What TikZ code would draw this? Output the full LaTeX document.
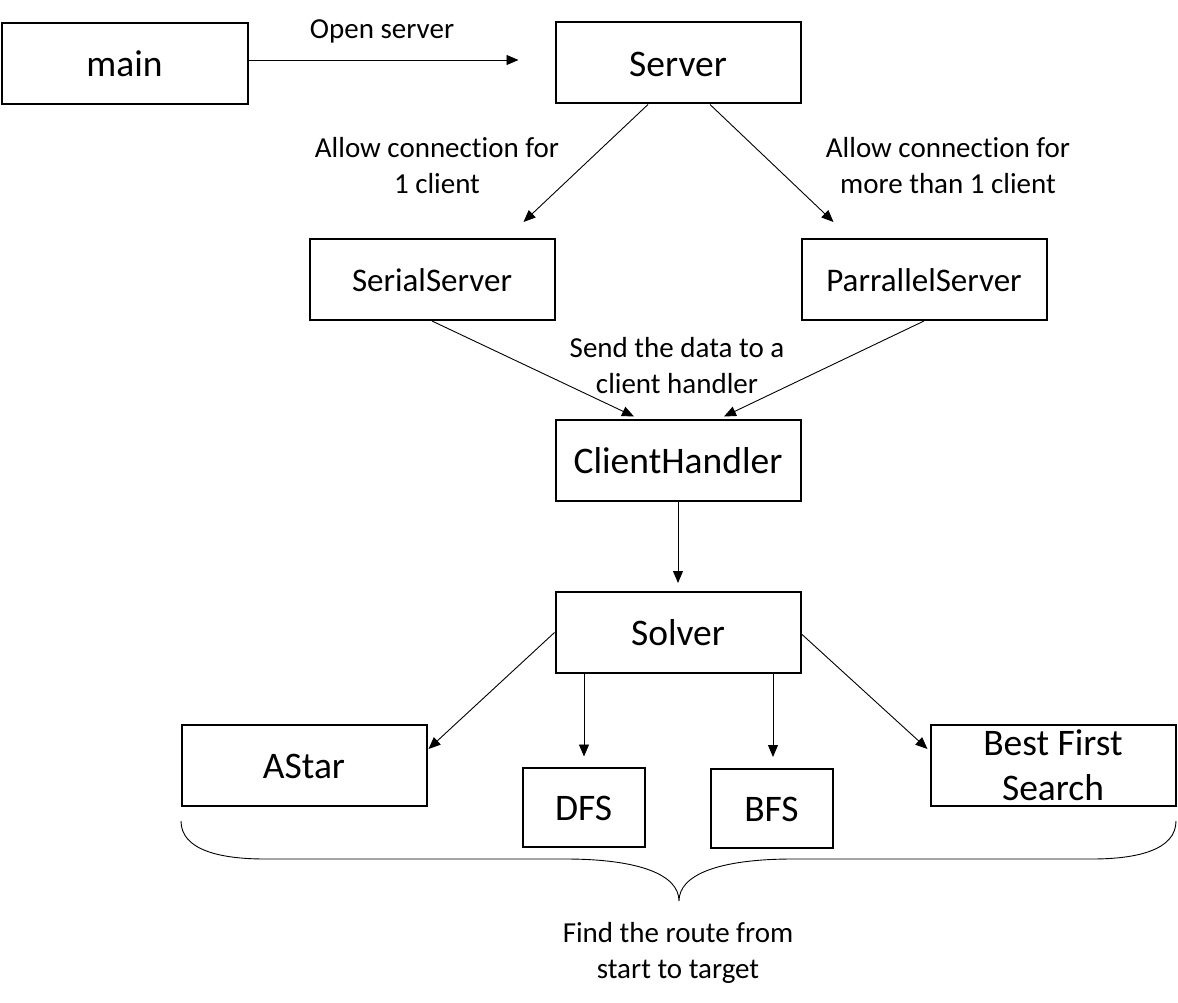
\documentclass[tikz,border=0pt]{standalone}
\usepackage{fontspec}
\setmainfont{Carlito}[Ligatures=NoCommon]
\usetikzlibrary{arrows.meta,calc}
\begin{document}
\begin{tikzpicture}[x=1pt,y=-1pt,
  boxbase/.style={draw,line width=2pt,minimum width=245pt,minimum height=81pt,inner sep=0pt,align=center,font=\fontsize{37.5}{45}\selectfont},
  box/.style={boxbase,text height=30pt,text depth=3.6pt},
  smallbox/.style={box,minimum width=122pt,minimum height=79pt},
  midbox/.style={box,font=\fontsize{33}{40}\selectfont,text height=27pt,text depth=3.5pt},
  lbl/.style={align=center,inner sep=0pt,font=\fontsize{29}{36}\selectfont},
  arr/.style={-{Triangle[length=12pt,width=10pt]},line width=0.9pt},
  bracel/.style={line width=0.9pt}]
\useasboundingbox (0,0) rectangle (1178,1003);
\node[box,minimum width=246pt] (main) at (124.5,63.5) {main};
\node[box] (server) at (678,63) {Server};
\node[midbox] (serial) at (432,279.5) {SerialServer};
\node[midbox] (par) at (924,279.5) {ParrallelServer};
\node[box] (ch) at (678,460) {ClientHandler};
\node[box] (solver) at (678,632.5) {Solver};
\node[box] (astar) at (304,765) {AStar};
\node[smallbox] (dfs) at (583.5,807) {DFS};
\node[smallbox] (bfs) at (771.5,808.5) {BFS};
\node[boxbase] (best) at (1053,765) {Best First\\Search};

\node[lbl] (l1) at (382,31) {Open server};
\node[lbl] (l2) at (437,165.5) {Allow connection for\\1 client};
\node[lbl] (l3) at (948,165.5) {Allow connection for\\more than 1 client};
\node[lbl] (l4) at (677,366) {Send the data to a\\client handler};
\node[lbl] (l5) at (678,952.5) {Find the route from\\start to target};

\coordinate (e1) at ($(server.west)+(-36,-3)$);
\draw[arr] (main.east |- e1) -- (e1);
\draw[arr] ($(server.south)+(-30,0)$) -- ($(serial.north east)+(-32,-16)$);
\draw[arr] ($(server.south)+(32,0)$) -- ($(par.north west)+(33,-16)$);
\draw[arr] (serial.south) -- ($(ch.north)+(-44,-2)$);
\draw[arr] (par.south) -- ($(ch.north)+(46,-2)$);
\draw[arr] (ch.south) -- ($(solver.north)+(0,-8)$);
\draw[arr] (solver.west) -- ($(astar.east)+(1,-16)$);
\draw[arr] ($(solver.south)+(-94,0)$) -- ($(dfs.north)+(0.5,-10)$);
\draw[arr] ($(solver.south)+(95,0)$) -- ($(bfs.north)+(1.5,-11)$);
\draw[arr] ($(solver.east)+(0,1.5)$) -- ($(best.west)+(-2,-16)$);

\coordinate (bl) at (181,821);
\coordinate (btip) at (679,901);
\coordinate (br) at (1176,821);
\draw[bracel] (bl) .. controls (181,850) and (220,859) .. (265,859) -- (565,859)
  .. controls (640,859) and (679,875) .. (btip)
  .. controls (679,875) and (718,859) .. (793,859) -- (1092,859)
  .. controls (1137,859) and (1176,850) .. (br);
\end{tikzpicture}
\end{document}
